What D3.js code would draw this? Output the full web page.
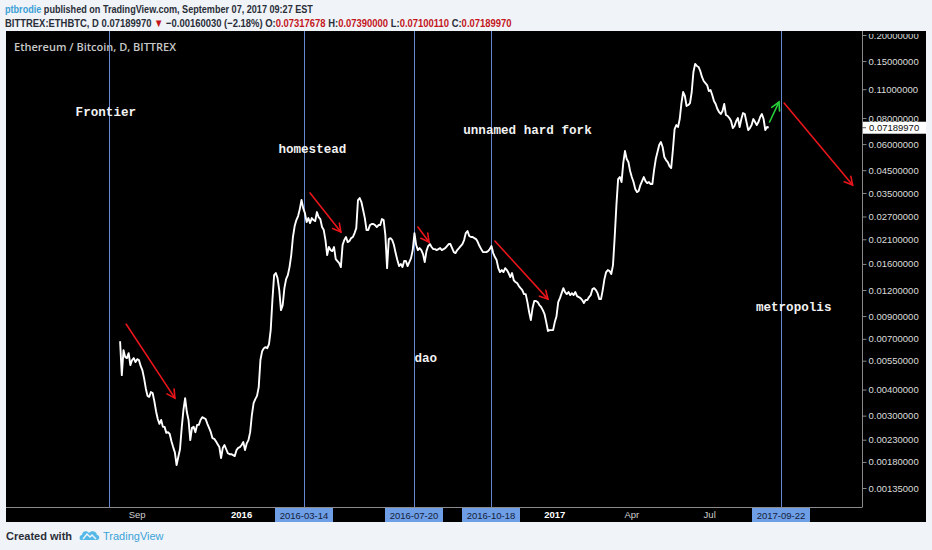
<!DOCTYPE html>
<meta charset="utf-8">
<style>
body { margin: 0; background: #f0f3f7; }
svg { display: block; }
.hdr { font-family: "Liberation Sans", Arial, sans-serif; font-size: 11.5px; font-weight: bold; fill: #2a2e39; }
.red { fill: #c4161c; }
.yaxis text { font-family: "Liberation Sans", Arial, sans-serif; font-size: 9.5px; fill: #dcdcdc; }
.xlab { font-family: "Liberation Sans", Arial, sans-serif; font-size: 9.5px; fill: #cfcfcf; }
.note { font-family: "Liberation Mono", "Courier New", monospace; font-size: 12.6px; font-weight: bold; fill: #f2f2f2; }
</style>
<svg width="932" height="550"></svg>
<script src="https://d3js.org/d3.v7.min.js"></script>
<script>
// ETH/BTC daily closes, sampled every 2 days from 2015-08-12
var startDate = "2015-08-12";
var stepDays = 2;
var closes = [
  0.00682, 0.00469, 0.00618, 0.00572, 0.00566, 0.00598, 0.00524, 0.00554, 0.00566, 0.00542,
  0.00559, 0.00554, 0.00519, 0.00496, 0.00454, 0.00406, 0.00373, 0.00369, 0.00389, 0.00385,
  0.00352, 0.00315, 0.00289, 0.00274, 0.00286, 0.00265, 0.00265, 0.00248, 0.00250, 0.00245,
  0.00226, 0.00212, 0.00200, 0.00174, 0.00190, 0.00207, 0.00262, 0.00319, 0.00364, 0.00312,
  0.00286, 0.00229, 0.00262, 0.00265, 0.00250, 0.00271, 0.00271, 0.00286, 0.00295, 0.00292,
  0.00289, 0.00274, 0.00262, 0.00250, 0.00234, 0.00232, 0.00226, 0.00219, 0.00212, 0.00188,
  0.00210, 0.00217, 0.00207, 0.00198, 0.00196, 0.00196, 0.00194, 0.00192, 0.00205, 0.00210,
  0.00212, 0.00217, 0.00224, 0.00205, 0.00221, 0.00229, 0.00250, 0.00302, 0.00344, 0.00360,
  0.00373, 0.00411, 0.00554, 0.00611, 0.00631, 0.00639, 0.00631, 0.00660, 0.00771, 0.01074,
  0.01414, 0.01446, 0.01368, 0.01199, 0.00961, 0.01016, 0.01225, 0.01353, 0.01414, 0.01545,
  0.01763, 0.02153, 0.02430, 0.02596, 0.02713, 0.02929, 0.03237, 0.02962, 0.02803, 0.02539,
  0.02653, 0.02510, 0.02653, 0.02596, 0.02567, 0.02835, 0.02684, 0.02624, 0.02404, 0.02325,
  0.02082, 0.01763, 0.01928, 0.01864, 0.01843, 0.01928, 0.01687, 0.01651, 0.01614, 0.01545,
  0.01970, 0.02082, 0.02153, 0.02036, 0.02059, 0.02127, 0.02153, 0.02248, 0.02375, 0.03237,
  0.03308, 0.03166, 0.02899, 0.02653, 0.02325, 0.02325, 0.02456, 0.02484, 0.02484, 0.02456,
  0.02404, 0.02456, 0.02456, 0.02624, 0.02596, 0.02199, 0.01527, 0.02104, 0.02127, 0.02082,
  0.01970, 0.01803, 0.01669, 0.01562, 0.01597, 0.01545, 0.01651, 0.01651, 0.01562, 0.01632,
  0.01706, 0.01864, 0.02248, 0.01970, 0.01864, 0.01905, 0.01864, 0.01784, 0.01632, 0.01843,
  0.01949, 0.01992, 0.01928, 0.01884, 0.01884, 0.01864, 0.01884, 0.01905, 0.01864, 0.01884,
  0.01905, 0.01949, 0.01992, 0.01992, 0.01905, 0.01823, 0.01803, 0.01864, 0.01905, 0.01949,
  0.01992, 0.02082, 0.02248, 0.02299, 0.02176, 0.02153, 0.02153, 0.02127, 0.02104, 0.02036,
  0.01949, 0.01884, 0.01823, 0.01823, 0.01823, 0.01843, 0.01884, 0.01949, 0.01803, 0.01726,
  0.01669, 0.01527, 0.01462, 0.01495, 0.01462, 0.01527, 0.01495, 0.01446, 0.01384, 0.01446,
  0.01339, 0.01310, 0.01295, 0.01253, 0.01225, 0.01199, 0.01147, 0.01147, 0.01050, 0.00940,
  0.00861, 0.00983, 0.01062, 0.01062, 0.01050, 0.01016, 0.00995, 0.00961, 0.00920, 0.00842,
  0.00763, 0.00771, 0.00771, 0.00771, 0.00842, 0.00899, 0.01050, 0.01097, 0.01159, 0.01225,
  0.01173, 0.01147, 0.01173, 0.01134, 0.01159, 0.01134, 0.01173, 0.01122, 0.01110, 0.01097,
  0.01074, 0.01039, 0.01074, 0.01074, 0.01110, 0.01134, 0.01212, 0.01225, 0.01199, 0.01159,
  0.01085, 0.01085, 0.01199, 0.01353, 0.01462, 0.01495, 0.01479, 0.01431, 0.01579, 0.02153,
  0.03062, 0.04080, 0.04174, 0.03948, 0.04868, 0.05560, 0.05088, 0.04923, 0.04458, 0.04174,
  0.03948, 0.03653, 0.03535, 0.03575, 0.03819, 0.03993, 0.04174, 0.03993, 0.03904, 0.03948,
  0.03863, 0.03863, 0.04508, 0.05088, 0.05498, 0.05939, 0.06140, 0.05813, 0.05206, 0.05034,
  0.04923, 0.04712, 0.04606, 0.05622, 0.07084, 0.07405, 0.07249, 0.07912, 0.09440, 0.10661,
  0.10203, 0.09137, 0.09235, 0.09440, 0.10661, 0.13295, 0.14527, 0.14208, 0.14057, 0.13444,
  0.12588, 0.12039, 0.11771, 0.11516, 0.10781, 0.10901, 0.10312, 0.09655, 0.09342, 0.08835,
  0.08550, 0.08366, 0.08646, 0.09342, 0.08270, 0.08183, 0.07999, 0.07742, 0.07163, 0.07327,
  0.07742, 0.07999, 0.07249, 0.07912, 0.08454, 0.08366, 0.07656, 0.07010, 0.07163, 0.07405,
  0.07912, 0.07656, 0.07405, 0.07656, 0.08095, 0.08366, 0.07912, 0.07010, 0.07249, 0.07190
];
var lastClose = 0.07189970;

var priceTicks = [0.2, 0.15, 0.11, 0.08, 0.06, 0.045, 0.035, 0.027, 0.021, 0.016,
                  0.012, 0.009, 0.007, 0.0055, 0.004, 0.003, 0.0023, 0.0018, 0.00135];

var monthTicks = ["2015-09-01", "2016-01-01", "2017-01-01", "2017-04-01", "2017-07-01"];
var monthLabels = ["Sep", "2016", "2017", "Apr", "Jul"];

// fork dates (vertical lines) and which get a date box on the axis
var forkDates = ["2015-07-30", "2016-03-14", "2016-07-20", "2016-10-18", "2017-09-22"];
var forkBoxed = [false, true, true, true, true];

var noteTexts = ["Frontier", "homestead", "dao", "unnamed hard fork", "metropolis"];
var noteDates = ["2015-06-21", "2016-02-13", "2016-07-21", "2016-09-16", "2017-08-24"];
var notePrices = [0.0855, 0.0574, 0.00572, 0.0701, 0.00995];

// drawn arrows: [from date, from price, to date, to price]
var arrowsRed = [
  ["2015-08-19", 0.00824, "2015-10-15", 0.00364],
  ["2016-03-21", 0.0350, "2016-04-26", 0.02274],
  ["2016-07-25", 0.02404, "2016-08-07", 0.02036],
  ["2016-10-23", 0.02059, "2016-12-24", 0.01085],
  ["2017-09-26", 0.0944, "2017-12-15", 0.0382]
];
var arrowsGreen = [
  ["2017-09-09", 0.0766, "2017-09-20", 0.0955]
];

var parse = d3.utcParse("%Y-%m-%d");
var t0 = parse(startDate);
var series = closes.map(function(c, i) {
  return { date: d3.utcDay.offset(t0, i * stepDays), close: c };
});

var svg = d3.select("svg");

var pL = 8, pR = 862, pT = 31, pB = 507;

var x = d3.scaleUtc()
  .domain([parse("2015-04-03"), parse("2017-12-26")])
  .range([pL, pR]);

var y = d3.scaleLog()
  .domain([0.00135, 0.2])
  .range([488, 35]);

// header, squeezed horizontally to the narrow look of the original
function squeeze(g, text, width) {
  var w = text.node().getComputedTextLength();
  g.attr("transform", "translate(5,0) scale(" + (width / w) + ",1)");
}
var g1 = svg.append("g");
var h1 = g1.append("text").attr("class", "hdr").attr("x", 0).attr("y", 13);
h1.append("tspan").style("fill", "#3c9fd6").text("ptbrodie");
h1.append("tspan").text(" published on TradingView.com, September 07, 2017 09:27 EST");
squeeze(g1, h1, 308);

var g2 = svg.append("g");
var h2 = g2.append("text").attr("class", "hdr").attr("x", 0).attr("y", 27);
h2.append("tspan").text("BITTREX:ETHBTC, D  0.07189970 ");
h2.append("tspan").attr("class", "red").text("\u25BC");
h2.append("tspan").text(" \u22120.00160030 (\u22122.18%) O:");
h2.append("tspan").attr("class", "red").text("0.07317678");
h2.append("tspan").text(" H:");
h2.append("tspan").attr("class", "red").text("0.07390000");
h2.append("tspan").text(" L:");
h2.append("tspan").attr("class", "red").text("0.07100110");
h2.append("tspan").text(" C:");
h2.append("tspan").attr("class", "red").text("0.07189970");
squeeze(g2, h2, 507);

// black chart panel
svg.append("rect").attr("x", 6).attr("y", pT).attr("width", 920).attr("height", 491).attr("fill", "#000");

var defs = svg.append("defs");
defs.append("clipPath").attr("id", "plotclip")
  .append("rect").attr("x", 6).attr("y", pT).attr("width", pR - 6).attr("height", pB - pT);
defs.append("clipPath").attr("id", "axisclip")
  .append("rect").attr("x", 0).attr("y", pT + 3).attr("width", 70).attr("height", pB - pT - 3);

svg.append("text")
  .attr("x", 14).attr("y", 51)
  .style("font-family", "'Open Sans', sans-serif").style("font-size", "11px").style("font-weight", 600)
  .style("fill", "#c8c8c8")
  .text("Ethereum / Bitcoin, D, BITTREX");

var plot = svg.append("g").attr("clip-path", "url(#plotclip)");

// fork lines
plot.selectAll("line.fork")
  .data(forkDates)
  .enter().append("line")
  .attr("class", "fork")
  .attr("x1", function(d) { return Math.round(x(parse(d))) + 0.5; })
  .attr("x2", function(d) { return Math.round(x(parse(d))) + 0.5; })
  .attr("y1", pT).attr("y2", pB)
  .attr("stroke", "#6489d0").attr("stroke-width", 1);

// price line
var line = d3.line()
  .x(function(d) { return x(d.date); })
  .y(function(d) { return y(d.close); });

plot.append("path")
  .datum(series)
  .attr("d", line)
  .attr("fill", "none")
  .attr("stroke", "#ffffff")
  .attr("stroke-width", 1.9)
  .attr("stroke-linejoin", "round");

// notes
plot.selectAll("text.note")
  .data(noteTexts)
  .enter().append("text")
  .attr("class", "note")
  .attr("x", function(d, i) { return x(parse(noteDates[i])); })
  .attr("y", function(d, i) { return y(notePrices[i]); })
  .attr("dy", "0.35em")
  .text(function(d) { return d; });

function drawArrow(a, color) {
  var x1 = x(parse(a[0])), y1 = y(a[1]), x2 = x(parse(a[2])), y2 = y(a[3]);
  var ang = Math.atan2(y2 - y1, x2 - x1), len = 9, spread = 0.5;
  var g = plot.append("g").attr("stroke", color).attr("stroke-width", 1.6)
    .attr("fill", "none").attr("stroke-linecap", "round");
  g.append("line").attr("x1", x1).attr("y1", y1).attr("x2", x2).attr("y2", y2);
  g.append("path").attr("d", d3.line()([
    [x2 - len * Math.cos(ang - spread), y2 - len * Math.sin(ang - spread)],
    [x2, y2],
    [x2 - len * Math.cos(ang + spread), y2 - len * Math.sin(ang + spread)]
  ]));
}
arrowsRed.forEach(function(a) { drawArrow(a, "#e8151b"); });
arrowsGreen.forEach(function(a) { drawArrow(a, "#27d23a"); });

// axes lines
svg.append("line").attr("x1", 6).attr("x2", pR).attr("y1", pB + 0.5).attr("y2", pB + 0.5).attr("stroke", "#8a8a8a");
svg.append("line").attr("x1", pR + 0.5).attr("x2", pR + 0.5).attr("y1", pT).attr("y2", pB + 0.5).attr("stroke", "#8a8a8a");

// right price axis
var yAxis = d3.axisRight(y)
  .tickValues(priceTicks)
  .tickFormat(function(d) { return d.toFixed(8); })
  .tickSize(4)
  .tickPadding(2);

var ya = svg.append("g").attr("class", "yaxis")
  .attr("transform", "translate(" + (pR + 0.5) + ",0)")
  .attr("clip-path", "url(#axisclip)")
  .call(yAxis);
ya.select(".domain").remove();
ya.selectAll(".tick line").attr("stroke", "#8a8a8a");

// last price marker
var ly = y(lastClose);
svg.append("rect").attr("x", pR + 1).attr("y", ly - 6).attr("width", 63).attr("height", 12).attr("fill", "#ffffff");
svg.append("line").attr("x1", pR).attr("x2", pR + 4).attr("y1", ly).attr("y2", ly).attr("stroke", "#555");
svg.append("text").attr("x", pR + 7).attr("y", ly).attr("dy", "0.35em")
  .style("font-family", "'Liberation Sans', Arial, sans-serif").style("font-size", "9.5px").style("fill", "#111")
  .text(lastClose.toFixed(8));

// time axis labels
svg.selectAll("text.xlab")
  .data(monthTicks)
  .enter().append("text")
  .attr("class", "xlab")
  .attr("x", function(d) { return x(parse(d)); })
  .attr("y", 518)
  .attr("text-anchor", "middle")
  .style("font-weight", function(d, i) { return /^\d+$/.test(monthLabels[i]) ? "bold" : "normal"; })
  .style("fill", function(d, i) { return /^\d+$/.test(monthLabels[i]) ? "#ffffff" : "#cfcfcf"; })
  .text(function(d, i) { return monthLabels[i]; });

var boxed = forkDates.filter(function(d, i) { return forkBoxed[i]; });
var bx = svg.selectAll("g.datebox").data(boxed).enter().append("g")
  .attr("class", "datebox")
  .attr("transform", function(d) { return "translate(" + Math.round(x(parse(d))) + "," + (pB + 1) + ")"; });
bx.append("rect").attr("x", -29).attr("y", 0).attr("width", 58).attr("height", 14).attr("fill", "#6d9ee6");
bx.append("text").attr("y", 10.5).attr("text-anchor", "middle")
  .style("font-family", "'Liberation Sans', Arial, sans-serif").style("font-size", "9.5px").style("fill", "#14213a")
  .text(function(d) { return d; });

// footer
svg.append("text").attr("x", 6).attr("y", 540)
  .style("font-family", "'Liberation Sans', Arial, sans-serif").style("font-size", "11px").style("font-weight", "bold")
  .style("fill", "#2a2e39").text("Created with");
var logo = svg.append("g").attr("transform", "translate(80,529)");
logo.append("path")
  .attr("d", "M1,11 C-1,11 -1,6 2,6 C2,2 7,1 9,4 C11,1 17,2 17,6 C20,6 20,11 17,11 Z")
  .attr("fill", "#55b9e8");
logo.append("path").attr("d", "M3,10 L7,5 L10,8 L12,6 L16,10")
  .attr("fill", "none").attr("stroke", "#f0f3f7").attr("stroke-width", 1.4);
svg.append("text").attr("x", 103).attr("y", 540)
  .style("font-family", "'Liberation Sans', Arial, sans-serif").style("font-size", "11px")
  .style("fill", "#3aa3da").text("TradingView");
</script>
